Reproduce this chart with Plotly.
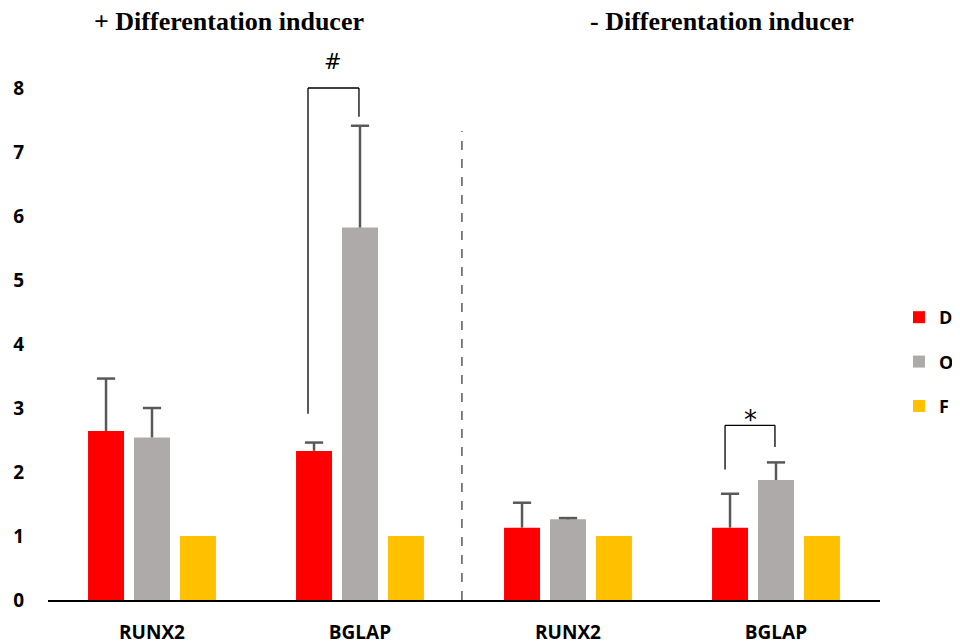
import plotly.graph_objects as go

# ---- data ----
categories = ["RUNX2 ", "BGLAP ", "RUNX2", "BGLAP"]
tick_labels = ["RUNX2", "BGLAP", "RUNX2", "BGLAP"]
series_names = ["D", "O", "F"]
d_values = [2.64, 2.33, 1.13, 1.13]
o_values = [2.54, 5.82, 1.26, 1.875]
f_values = [1.0, 1.0, 1.0, 1.0]
d_err = [0.82, 0.13, 0.39, 0.53]
o_err = [0.46, 1.59, 0.02, 0.275]
f_err = [None, None, None, None]
colors = ["#FF0000", "#AEAAAA", "#FFC000"]
y_ticks = [0, 1, 2, 3, 4, 5, 6, 7, 8]
panel_titles = ["+ Differentation inducer", "- Differentation inducer"]
# significance brackets: (x_left, x_right, y_left_bottom, y_top, y_right_bottom, label)
brackets = [
    (0.75, 0.995, 2.91, 8.0, 7.55, "#"),
    (2.755, 2.995, 2.04, 2.73, 2.39, "*"),
]

# ---- styles ----
ERR_COLOR = "#595959"
label_style = {"#": dict(size=21, yshift=12), "*": dict(size=26, yshift=-12)}

fig = go.Figure()
for name, vals, errs, col in zip(series_names, [d_values, o_values, f_values],
                                 [d_err, o_err, f_err], colors):
    has_err = any(e is not None for e in errs)
    fig.add_trace(go.Bar(
        x=categories, y=vals, name=name, legendgroup=name, offsetgroup=name,
        marker=dict(color=col, line=dict(width=0)),
        error_y=dict(type="data", symmetric=False,
                     array=[e if e is not None else 0 for e in errs],
                     arrayminus=[0] * len(errs), color=ERR_COLOR,
                     thickness=2.5, width=0, visible=has_err),
        hoverinfo="skip",
    ))
for name, vals, errs in zip(series_names, [d_values, o_values, f_values],
                            [d_err, o_err, f_err]):
    tops = [v + e if e is not None else None for v, e in zip(vals, errs)]
    fig.add_trace(go.Scatter(
        x=categories, y=tops, offsetgroup=name, legendgroup=name, mode="markers",
        showlegend=False, hoverinfo="skip", cliponaxis=False,
        marker=dict(symbol="line-ew", size=13,
                    line=dict(color=ERR_COLOR, width=2.5)),
    ))

shapes = []
annotations = []
for xl, xr, yl, yt, yr, lab in brackets:
    shapes.append(dict(type="line", xref="x", yref="y", x0=xl, x1=xl, y0=yl, y1=yt,
                       line=dict(color="black", width=1.3)))
    shapes.append(dict(type="line", xref="x", yref="y", x0=xl, x1=xr, y0=yt, y1=yt,
                       line=dict(color="black", width=1.3)))
    shapes.append(dict(type="line", xref="x", yref="y", x0=xr, x1=xr, y0=yt, y1=yr,
                       line=dict(color="black", width=1.3)))
    st = label_style[lab]
    annotations.append(dict(x=(xl + xr) / 2, y=yt, xref="x", yref="y", text=lab,
                            showarrow=False, yanchor="bottom", yshift=st["yshift"],
                            font=dict(family="DejaVu Sans", size=st["size"], color="black")))

# divider between the two panels
shapes.append(dict(type="line", xref="x", yref="y", x0=1.49, x1=1.49, y0=0, y1=7.33,
                   line=dict(color=ERR_COLOR, width=1.5, dash="dash")))

for xp, t in zip([0.2175, 0.81], panel_titles):
    annotations.append(dict(x=xp, y=1.0035, xref="paper", yref="paper",
                            text=t, showarrow=False, xanchor="center", yanchor="middle",
                            font=dict(family="Liberation Serif", size=26, color="black",
                                      weight=700)))

fig.update_layout(
    width=960, height=644,
    margin=dict(l=40, r=88, t=16, b=52, autoexpand=False),
    paper_bgcolor="white", plot_bgcolor="white",
    barmode="group", bargap=0.337, bargroupgap=0.217,
    scattermode="group", scattergap=0.337,
    shapes=shapes, annotations=annotations,
    showlegend=True,
    legend=dict(x=1.0228, xanchor="left", y=0.5226, yanchor="top",
                traceorder="grouped", tracegroupgap=18,
                font=dict(family="Open Sans", size=18, color="black", weight=700),
                bgcolor="rgba(0,0,0,0)"),
    xaxis=dict(type="category", range=[-0.5, 3.5], showline=True, linecolor="black",
               linewidth=2, showgrid=False, zeroline=False, ticks="",
               tickvals=categories, ticktext=tick_labels, ticklabelstandoff=14,
               tickfont=dict(family="Open Sans", size=19, color="black", weight=700)),
    yaxis=dict(range=[0, 9], tickvals=y_ticks, showgrid=False, zeroline=False,
               showline=False, ticks="", ticklabelstandoff=23,
               tickfont=dict(family="Open Sans", size=19, color="black", weight=700)),
)

fig.write_html("out.html")
